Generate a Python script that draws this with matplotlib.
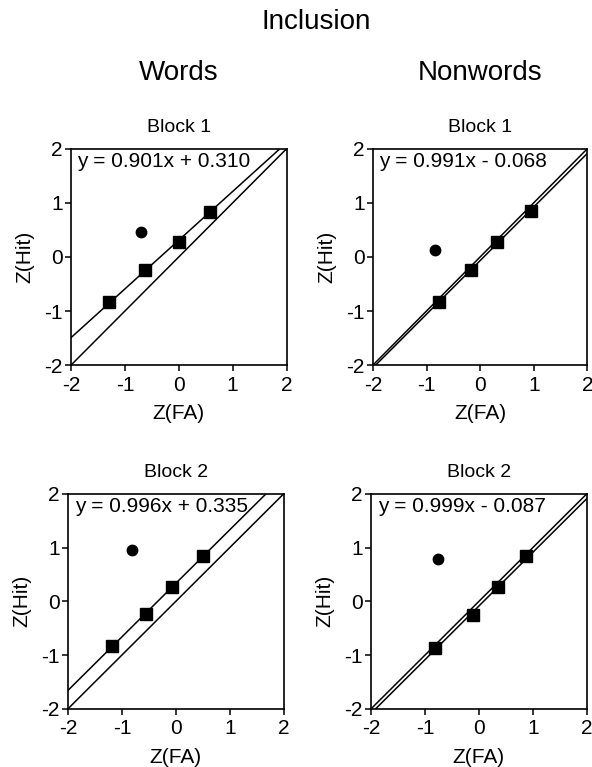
import numpy as np
import matplotlib
matplotlib.use("Agg")
import matplotlib.pyplot as plt

plt.rcParams['font.family'] = ['Liberation Sans', 'DejaVu Sans']
plt.rcParams['axes.unicode_minus'] = False

# data: z(FA), z(Hit) for each panel
words_b1_fa = [-1.30, -0.62, 0.00, 0.58]
words_b1_hit = [-0.84, -0.25, 0.27, 0.84]
words_b1_dot = (-0.70, 0.47)
words_b1_fit = (0.901, 0.310)

nonwords_b1_fa = [-0.76, -0.17, 0.32, 0.95]
nonwords_b1_hit = [-0.84, -0.25, 0.27, 0.85]
nonwords_b1_dot = (-0.84, 0.12)
nonwords_b1_fit = (0.991, -0.068)

words_b2_fa = [-1.18, -0.56, -0.07, 0.51]
words_b2_hit = [-0.84, -0.24, 0.26, 0.84]
words_b2_dot = (-0.82, 0.95)
words_b2_fit = (0.996, 0.335)

nonwords_b2_fa = [-0.81, -0.11, 0.36, 0.87]
nonwords_b2_hit = [-0.86, -0.26, 0.27, 0.84]
nonwords_b2_dot = (-0.76, 0.78)
nonwords_b2_fit = (0.999, -0.087)

panels = [
    ("Block 1", words_b1_fa, words_b1_hit, words_b1_dot, words_b1_fit),
    ("Block 1", nonwords_b1_fa, nonwords_b1_hit, nonwords_b1_dot, nonwords_b1_fit),
    ("Block 2", words_b2_fa, words_b2_hit, words_b2_dot, words_b2_fit),
    ("Block 2", nonwords_b2_fa, nonwords_b2_hit, nonwords_b2_dot, nonwords_b2_fit),
]

# axes boxes in figure fractions (left, bottom, width, height)
boxes = [
    [0.120, 0.524, 0.364, 0.282],
    [0.630, 0.524, 0.362, 0.282],
    [0.115, 0.076, 0.364, 0.280],
    [0.627, 0.076, 0.364, 0.280],
]

fig = plt.figure(figsize=(5.92, 7.67), dpi=100)

for box, (title, fa, hit, dot, fit) in zip(boxes, panels):
    ax = fig.add_axes(box)
    xs = np.array([-2, 2])
    ax.plot(xs, xs, color='black', lw=1.1)
    slope, icpt = fit
    ax.plot(xs, slope * xs + icpt, color='black', lw=1.1)
    ax.plot(fa, hit, 's', color='black', ms=8)
    ax.plot(dot[0], dot[1], 'o', color='black', ms=7.5)
    sign = '+' if icpt >= 0 else '-'
    ax.text(0.03, 0.985, f"y = {slope:.3f}x {sign} {abs(icpt):.3f}",
            transform=ax.transAxes, ha='left', va='top', fontsize=15)
    ax.set_xlim(-2, 2)
    ax.set_ylim(-2, 2)
    ax.set_xticks([-2, -1, 0, 1, 2])
    ax.set_yticks([-2, -1, 0, 1, 2])
    ax.tick_params(direction='out', length=4.5, width=1.1, labelsize=15, pad=1.5)
    ax.tick_params(axis='x', pad=3)
    for s in ax.spines.values():
        s.set_linewidth(1.2)
    ax.set_xlabel("Z(FA)", fontsize=15, labelpad=7)
    ax.set_ylabel("Z(Hit)", fontsize=15, labelpad=7)
    ax.set_title(title, fontsize=14, pad=12)

fig.text(316 / 592, 1 - 22 / 767, "Inclusion", ha='center', va='center', fontsize=20)
fig.text(179 / 592, 1 - 73 / 767, "Words", ha='center', va='center', fontsize=20)
fig.text(480 / 592, 1 - 73 / 767, "Nonwords", ha='center', va='center', fontsize=20)

fig.savefig("out.png", dpi=100)
